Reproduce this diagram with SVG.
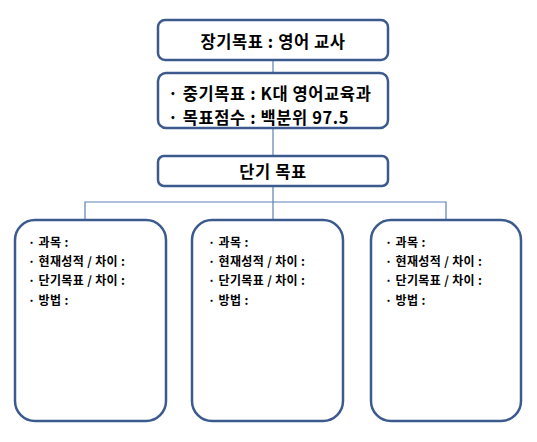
<svg xmlns="http://www.w3.org/2000/svg" width="537" height="442" viewBox="0 0 537 442">
<style>
.box{fill:#fff;stroke:#3c5a8e;stroke-width:2.5}
.conn{fill:none;stroke:#5b82b8;stroke-width:1.2}
text{font-family:"Noto Sans CJK KR","Liberation Sans",sans-serif;font-weight:bold;fill:#000}
.big{font-size:16.5px;letter-spacing:0.6px}
.small{font-size:12px;letter-spacing:0.35px}
</style>
<rect width="537" height="442" fill="#fff"/>
<g id="connectors">
<line class="conn" x1="273" y1="60" x2="273" y2="73"/>
<line class="conn" x1="273" y1="128" x2="273" y2="156"/>
<line class="conn" x1="273" y1="186" x2="273" y2="220"/>
<polyline class="conn" points="85,220 85,202 446,202 446,220"/>
</g>
<g id="long-term">
<rect class="box" x="158" y="20" width="230" height="40" rx="7"/>
<text class="big" x="273" y="48" text-anchor="middle">장기목표 : 영어 교사</text>
</g>
<g id="mid-term">
<rect class="box" x="158" y="73" width="230" height="55" rx="8"/>
<text class="big" x="168" y="100">· 중기목표 : K대 영어교육과</text>
<text class="big" x="168" y="124">· 목표점수 : 백분위 97.5</text>
</g>
<g id="short-term">
<rect class="box" x="158" y="156" width="230" height="30" rx="6"/>
<text class="big" x="273" y="178" text-anchor="middle">단기 목표</text>
</g>
<g id="subject-1">
<rect class="box" x="15" y="220" width="151" height="201" rx="20"/>
<text class="small" x="28" y="247">· 과목 :</text>
<text class="small" x="28" y="266">· 현재성적 / 차이 :</text>
<text class="small" x="28" y="285">· 단기목표 / 차이 :</text>
<text class="small" x="28" y="305">· 방법 :</text>
</g>
<g id="subject-2">
<rect class="box" x="192" y="220" width="151" height="201" rx="20"/>
<text class="small" x="208" y="247">· 과목 :</text>
<text class="small" x="208" y="266">· 현재성적 / 차이 :</text>
<text class="small" x="208" y="285">· 단기목표 / 차이 :</text>
<text class="small" x="208" y="305">· 방법 :</text>
</g>
<g id="subject-3">
<rect class="box" x="371" y="220" width="150" height="201" rx="20"/>
<text class="small" x="385" y="247">· 과목 :</text>
<text class="small" x="385" y="266">· 현재성적 / 차이 :</text>
<text class="small" x="385" y="285">· 단기목표 / 차이 :</text>
<text class="small" x="385" y="305">· 방법 :</text>
</g>
</svg>
